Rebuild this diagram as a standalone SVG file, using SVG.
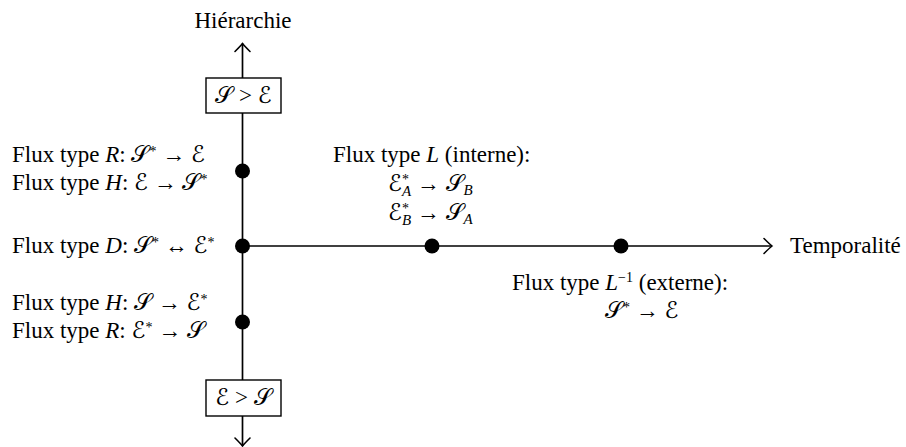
<svg xmlns="http://www.w3.org/2000/svg" width="906" height="447" viewBox="0 0 906 447">
<defs>
<style>
.t{font-family:"Liberation Serif","DejaVu Serif",serif;font-size:23px;fill:#000}
.i{font-style:italic}
.m{font-family:"DejaVu Serif","DejaVu Sans","Noto Sans",serif;font-style:normal}
.sup{font-size:14px}
.sub{font-size:15px;font-style:italic}
.ln{stroke:#000;stroke-width:1.7;fill:none}
.dot{fill:#000}
.box{fill:#fff;stroke:#000;stroke-width:1.4}
</style>
<marker id="ar" markerUnits="userSpaceOnUse" markerWidth="20" markerHeight="20" refX="0" refY="0" viewBox="-10 -10 20 20" orient="auto" overflow="visible">
<path d="M-8,-7.5 Q-2.5,-2 0,0 Q-2.5,2 -8,7.5" fill="none" stroke="#000" stroke-width="1.6" stroke-linecap="round"/>
</marker>
</defs>
<rect width="906" height="447" fill="#fff"/>
<g id="connectors">
<path class="ln" d="M242.5,246 L242.5,43.5" marker-end="url(#ar)"/>
<path class="ln" d="M242.5,246 L242.5,446" marker-end="url(#ar)"/>
<path class="ln" d="M242.5,246 L772,246" marker-end="url(#ar)"/>
</g>
<g id="axis-hierarchie"><text class="t" x="243" y="28" text-anchor="middle">Hiérarchie</text></g>
<g id="axis-temporalite"><text class="t" x="790" y="253">Temporalité</text></g>
<g id="box-top">
<rect class="box" x="206" y="78" width="75" height="35"/>
<text class="t" x="243.5" y="103" text-anchor="middle"><tspan class="m">𝒮</tspan> &gt; <tspan class="m">ℰ</tspan></text>
</g>
<g id="box-bottom">
<rect class="box" x="206" y="380" width="75" height="36"/>
<text class="t" x="243.5" y="405" text-anchor="middle"><tspan class="m">ℰ</tspan> &gt; <tspan class="m">𝒮</tspan></text>
</g>
<g id="node-RH-top">
<circle class="dot" cx="242.5" cy="171" r="7.5"/>
<text class="t" x="12" y="162">Flux type <tspan class="i">R</tspan>: <tspan class="m">𝒮</tspan><tspan class="sup" dy="-6">*</tspan><tspan dy="6"> → </tspan><tspan class="m">ℰ</tspan></text>
<text class="t" x="12" y="190">Flux type <tspan class="i">H</tspan>: <tspan class="m">ℰ</tspan> → <tspan class="m">𝒮</tspan><tspan class="sup" dy="-6">*</tspan></text>
</g>
<g id="node-D">
<circle class="dot" cx="242.5" cy="246" r="7.5"/>
<text class="t" x="12" y="253">Flux type <tspan class="i">D</tspan>: <tspan class="m">𝒮</tspan><tspan class="sup" dy="-6">*</tspan><tspan dy="6"> ↔ </tspan><tspan class="m">ℰ</tspan><tspan class="sup" dy="-6">*</tspan></text>
</g>
<g id="node-HR-bottom">
<circle class="dot" cx="242.5" cy="322" r="7.5"/>
<text class="t" x="12" y="310">Flux type <tspan class="i">H</tspan>: <tspan class="m">𝒮</tspan> → <tspan class="m">ℰ</tspan><tspan class="sup" dy="-6">*</tspan></text>
<text class="t" x="12" y="338">Flux type <tspan class="i">R</tspan>: <tspan class="m">ℰ</tspan><tspan class="sup" dy="-6">*</tspan><tspan dy="6"> → </tspan><tspan class="m">𝒮</tspan></text>
</g>
<g id="node-L">
<circle class="dot" cx="432" cy="246" r="7.5"/>
<text class="t" x="333" y="162">Flux type <tspan class="i">L</tspan> (interne):</text>
<text class="t" x="388" y="191"><tspan class="m">ℰ</tspan><tspan class="sup" dy="-7">*</tspan><tspan class="sub" dx="-7" dy="12">A</tspan><tspan dy="-5"> → </tspan><tspan class="m">𝒮</tspan><tspan class="sub" dy="4">B</tspan></text>
<text class="t" x="388" y="220"><tspan class="m">ℰ</tspan><tspan class="sup" dy="-7">*</tspan><tspan class="sub" dx="-7" dy="12">B</tspan><tspan dy="-5"> → </tspan><tspan class="m">𝒮</tspan><tspan class="sub" dy="4">A</tspan></text>
</g>
<g id="node-Linv">
<circle class="dot" cx="621" cy="246" r="7.5"/>
<text class="t" x="512" y="290">Flux type <tspan class="i">L</tspan><tspan class="sup" dy="-8">−1</tspan><tspan dy="8"> (externe):</tspan></text>
<text class="t" x="605" y="318"><tspan class="m">𝒮</tspan><tspan class="sup" dy="-6">*</tspan><tspan dy="6"> → </tspan><tspan class="m">ℰ</tspan></text>
</g>
</svg>
